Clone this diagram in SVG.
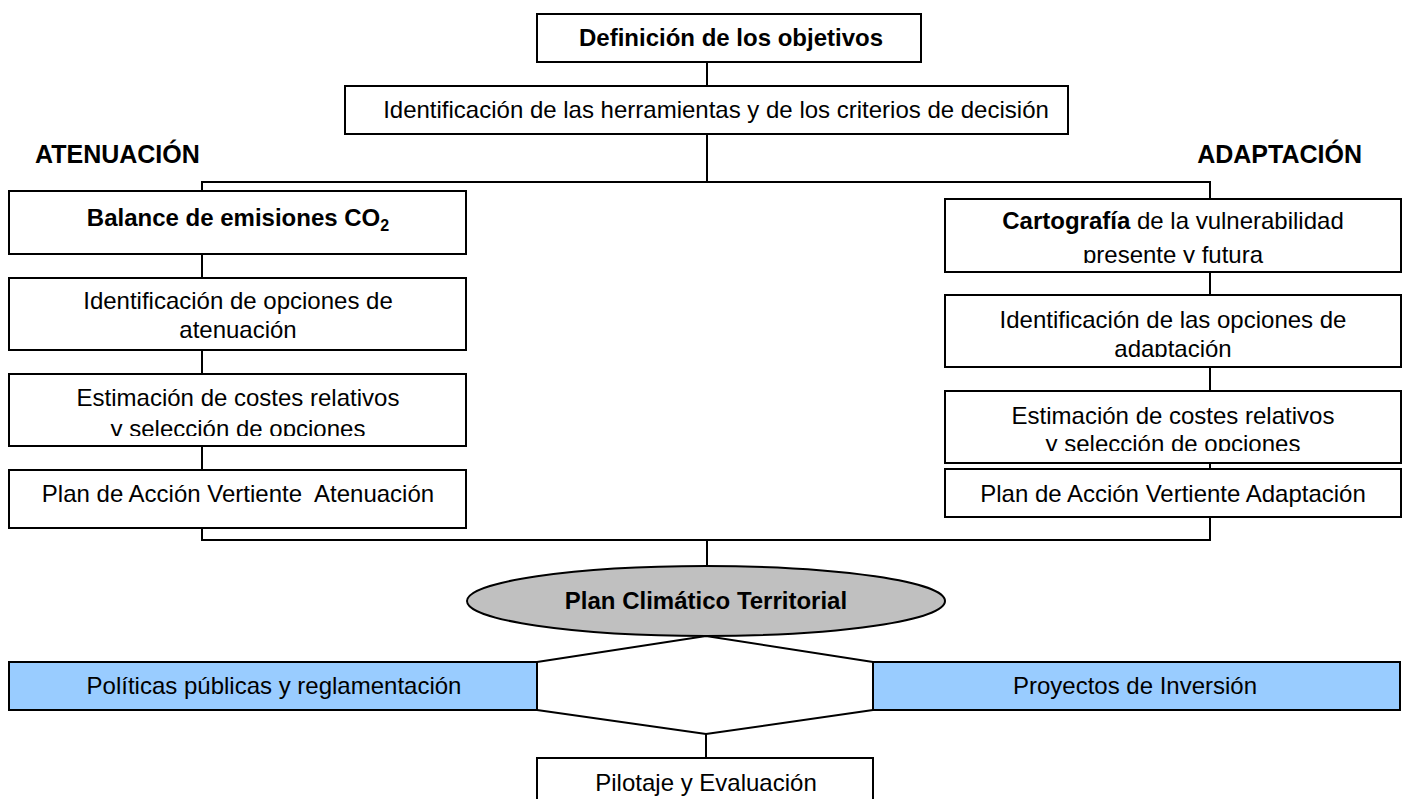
<svg xmlns="http://www.w3.org/2000/svg" width="1406" height="799" viewBox="0 0 1406 799">
<style>
.box{fill:#fff;stroke:#000;stroke-width:2}
.blue{fill:#99ccff;stroke:#000;stroke-width:2}
.ell{fill:#c0c0c0;stroke:#000;stroke-width:2}
.ln{fill:none;stroke:#000;stroke-width:2}
text{font-family:"Liberation Sans",Arial,sans-serif;font-size:24px;fill:#000;text-anchor:middle}
.b{font-weight:bold}
.hd{font-weight:bold;font-size:25px}
</style>
<defs>
<clipPath id="c1"><rect x="9" y="374" width="457" height="62"/></clipPath>
<clipPath id="c2"><rect x="945" y="199" width="456" height="64"/></clipPath>
<clipPath id="c3"><rect x="945" y="295" width="456" height="62"/></clipPath>
<clipPath id="c4"><rect x="945" y="391" width="456" height="60"/></clipPath>
</defs>
<g id="connectors">
<line class="ln" x1="707" y1="62" x2="707" y2="86"/>
<line class="ln" x1="707" y1="134" x2="707" y2="182"/>
<polyline class="ln" points="202,191 202,182 1210,182 1210,199"/>
<line class="ln" x1="202" y1="254" x2="202" y2="278"/>
<line class="ln" x1="202" y1="350" x2="202" y2="374"/>
<line class="ln" x1="202" y1="446" x2="202" y2="470"/>
<line class="ln" x1="1210" y1="272" x2="1210" y2="295"/>
<line class="ln" x1="1210" y1="367" x2="1210" y2="391"/>
<polyline class="ln" points="202,528 202,540 1210,540 1210,517"/>
<line class="ln" x1="707" y1="540" x2="707" y2="566"/>
<polyline class="ln" points="537,662 706,636 873,662"/>
<polyline class="ln" points="537,710 706,734 873,710"/>
<line class="ln" x1="706" y1="734" x2="706" y2="758"/>
</g>
<g id="n-definicion">
<rect class="box" x="537" y="14" width="384" height="48"/>
<text class="b" x="731" y="46" font-size="23.5">Definición de los objetivos</text>
</g>
<g id="n-herramientas">
<rect class="box" x="345" y="86" width="723" height="48"/>
<text x="716" y="118">Identificación de las herramientas y de los criterios de decisión</text>
</g>
<g id="n-atenuacion-title">
<text class="hd" x="35" y="163" style="text-anchor:start">ATENUACIÓN</text>
</g>
<g id="n-adaptacion-title">
<text class="hd" x="1362" y="163" style="text-anchor:end">ADAPTACIÓN</text>
</g>
<g id="n-balance">
<rect class="box" x="9" y="191" width="457" height="63"/>
<text class="b" x="238" y="226">Balance de emisiones CO<tspan font-size="16" dy="5">2</tspan></text>
</g>
<g id="n-opc-aten">
<rect class="box" x="9" y="278" width="457" height="72"/>
<text x="238" y="309">Identificación de opciones de</text>
<text x="238" y="338">atenuación</text>
</g>
<g id="n-est-aten">
<rect class="box" x="9" y="374" width="457" height="72"/>
<text x="238" y="406">Estimación de costes relativos</text>
<text x="238" y="437" clip-path="url(#c1)">y selección de opciones</text>
</g>
<g id="n-plan-aten">
<rect class="box" x="9" y="470" width="457" height="58"/>
<text x="238" y="502" xml:space="preserve">Plan de Acción Vertiente  Atenuación</text>
</g>
<g id="n-cartografia">
<rect class="box" x="945" y="199" width="456" height="73"/>
<text x="1173" y="229"><tspan class="b">Cartografía</tspan> de la vulnerabilidad</text>
<text x="1173" y="263" clip-path="url(#c2)">presente y futura</text>
</g>
<g id="n-opc-adap">
<rect class="box" x="945" y="295" width="456" height="72"/>
<text x="1173" y="328">Identificación de las opciones de</text>
<text x="1173" y="357" clip-path="url(#c3)">adaptación</text>
</g>
<g id="n-est-adap">
<rect class="box" x="945" y="391" width="456" height="72"/>
<text x="1173" y="424">Estimación de costes relativos</text>
<text x="1173" y="452" clip-path="url(#c4)">y selección de opciones</text>
</g>
<line class="ln" x1="1210" y1="463" x2="1210" y2="480"/>
<g id="n-plan-adap">
<rect class="box" x="945" y="469" width="456" height="48"/>
<text x="1173" y="502">Plan de Acción Vertiente Adaptación</text>
</g>
<g id="n-plan-climatico">
<ellipse class="ell" cx="706" cy="601" rx="239" ry="35"/>
<text class="b" x="706" y="609">Plan Climático Territorial</text>
</g>
<g id="n-politicas">
<rect class="blue" x="9" y="662" width="528" height="48"/>
<text x="274" y="694">Políticas públicas y reglamentación</text>
</g>
<g id="n-proyectos">
<rect class="blue" x="873" y="662" width="527" height="48"/>
<text x="1135" y="694">Proyectos de Inversión</text>
</g>
<g id="n-pilotaje">
<rect class="box" x="537" y="758" width="336" height="50"/>
<text x="706" y="791">Pilotaje y Evaluación</text>
</g>
</svg>
